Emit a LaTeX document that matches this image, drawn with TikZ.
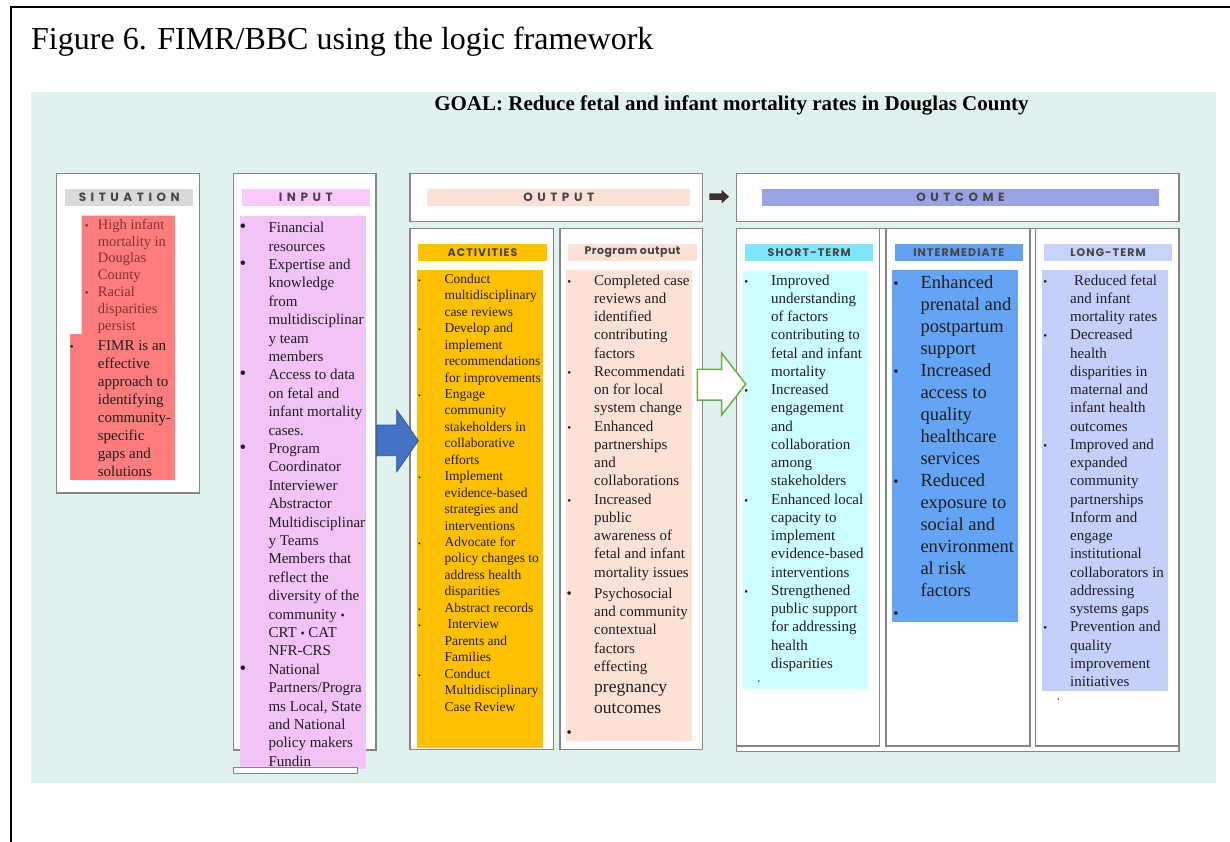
\documentclass[tikz,border=0pt]{standalone}
\usepackage{fontspec}
\setmainfont{Liberation Serif}
\newfontfamily\hdfont{Poppins}
\usepackage{xcolor}

\definecolor{tealbg}{HTML}{E0F2EF}
\definecolor{panelgray}{HTML}{858585}
\definecolor{tagtext}{HTML}{454545}
\definecolor{bodytext}{HTML}{1E1E1E}
\definecolor{sitbar}{HTML}{D9D9D9}
\definecolor{sitfill}{HTML}{FF7C7C}
\definecolor{sitred}{HTML}{7E3434}
\definecolor{inbar}{HTML}{FBC8FB}
\definecolor{infill}{HTML}{F3C3F8}
\definecolor{outbar}{HTML}{FBE0D6}
\definecolor{peach}{HTML}{FBE1D6}
\definecolor{outcomebar}{HTML}{9AA2E6}
\definecolor{actorange}{HTML}{FFC000}
\definecolor{shortbar}{HTML}{7FE6F9}
\definecolor{shortfill}{HTML}{CCFFFF}
\definecolor{interbar}{HTML}{62A0F0}
\definecolor{interfill}{HTML}{64A4F5}
\definecolor{longbar}{HTML}{C7D2FB}
\definecolor{longfill}{HTML}{C4CFFB}
\definecolor{arrowblue}{HTML}{4472C4}
\definecolor{arrowedge}{HTML}{2F528F}
\definecolor{arrowgreen}{HTML}{70AD47}
\definecolor{arrowdark}{HTML}{3A2F2C}

% bullets of several sizes and a bullet list with fixed line breaks
\newcommand{\bb}{\makebox[0pt]{\fontsize{19}{19}\selectfont\textbullet}}
\newcommand{\lbb}{\makebox[0pt]{\fontsize{15}{15}\selectfont\textbullet}}
\newcommand{\mbb}{\makebox[0pt]{\fontsize{11}{11}\selectfont\textbullet}}
\newcommand{\sbb}{\makebox[0pt]{\fontsize{8}{8}\selectfont\textbullet}}
\newcommand{\ib}{{\fontsize{12}{12}\selectfont\textbullet}}
\newcommand{\blist}[2]{\begin{tabular}[t]{@{}p{#1}@{}l@{}}#2\end{tabular}}

\tikzset{
  panel/.style={draw=panelgray, line width=1.4pt, fill=white, inner sep=0pt},
  pad/.style={draw=none, inner sep=0pt},
  tag/.style={inner sep=0pt, minimum height=16.4, text=tagtext,
    font={\hdfont\bfseries\fontsize{12}{12}\selectfont\addfontfeatures{LetterSpace=38}}},
  subtag/.style={inner sep=0pt, minimum height=16.7, text=tagtext,
    font={\hdfont\bfseries\fontsize{11}{11}\selectfont\addfontfeatures{LetterSpace=10}}},
  items/.style={anchor=base west, inner sep=0pt, text=bodytext},
}

\begin{document}
\begin{tikzpicture}[x=1pt,y=-1pt]
\useasboundingbox (0,0) rectangle (1230,842);
\fill[white] (0,0) rectangle (1230,842);
\draw[line width=2pt] (11,842) -- (11,7) -- (1230,7);

\node[anchor=base west, inner sep=0pt, font=\fontsize{32}{38}\selectfont] (title) at (31,50)
  {Figure 6. FIMR/BBC using the logic framework};

\fill[tealbg] (31,92) rectangle (1215.7,782.7);
\node[anchor=base, inner sep=0pt, font=\bfseries\fontsize{21}{25}\selectfont] (goal) at (731.5,111)
  {GOAL: Reduce fetal and infant mortality rates in Douglas County};

% white panels
\node[panel, minimum width=142.6, minimum height=319.7] (sitbox) at (128,333.2) {};
\node[panel, minimum width=142.3, minimum height=576.7] (inbox) at (304.9,461.7) {};
\node[panel, minimum width=292.7, minimum height=48.4] (outhead) at (556.4,197.5) {};
\node[panel, minimum width=442.3, minimum height=48.4] (outcomehead) at (957.9,197.5) {};
\node[panel, minimum width=143.3, minimum height=521] (actbox) at (481.7,488.8) {};
\node[panel, minimum width=142.7, minimum height=521] (progbox) at (631.4,488.8) {};
\node[panel, minimum width=442.3, minimum height=523.4] (outcomebox) at (957.9,490) {};
\node[panel, minimum width=142.6, minimum height=517.7] (shortbox) at (808,487.2) {};
\node[panel, minimum width=144, minimum height=517.7] (interbox) at (958,487.2) {};
\node[panel, minimum width=143.7, minimum height=517.7] (longbox) at (1107.2,487.2) {};

% headings
\node[tag, fill=sitbar, minimum width=128.3] (sittag) at (129.2,197.5) {SITUATION};
\node[tag, fill=inbar, minimum width=128.3] (intag) at (305.8,197.5) {INPUT};
\node[tag, fill=outbar, minimum width=262.7] (outtag) at (558.7,197.5) {OUTPUT};
\node[tag, fill=outcomebar, minimum width=397.6] (outcometag) at (960.5,197.5) {OUTCOME};
\node[subtag, fill=actorange, minimum width=128.4] (acttag) at (482.5,252.3) {ACTIVITIES};
\node[subtag, fill=outbar, minimum width=128.4, font={\hdfont\bfseries\fontsize{11}{11}\selectfont\addfontfeatures{LetterSpace=4}}] (progtag) at (632.5,252.3) {Program output};
\node[subtag, fill=shortbar, minimum width=128.3] (shorttag) at (809.2,252.3) {SHORT-TERM};
\node[subtag, fill=interbar, minimum width=127.7] (intertag) at (958.8,252.3) {INTERMEDIATE};
\node[subtag, fill=longbar, minimum width=128] (longtag) at (1108,252.3) {LONG-TERM};

% coloured text areas
\fill[sitfill] (81.7,215.7) -- (175,215.7) -- (175,480) -- (70,480) -- (70,334) -- (81.7,334) -- cycle;
\node[pad, fill=infill, minimum width=125.7, minimum height=553.6] (inpad) at (302.9,492.5) {};
\node[panel, minimum width=124, minimum height=6] (infoot) at (295.3,770.3) {};
\node[pad, fill=actorange, minimum width=126, minimum height=478.3] (actpad) at (479.7,509.2) {};
\node[pad, fill=peach, minimum width=126, minimum height=471] (progpad) at (628.7,505.5) {};
\node[pad, fill=shortfill, minimum width=125, minimum height=418.6] (shortpad) at (805.8,480) {};
\node[pad, fill=interfill, minimum width=125.4, minimum height=351.7] (interpad) at (955,445.9) {};
\node[pad, fill=longfill, minimum width=125.4, minimum height=420.7] (longpad) at (1105,480.4) {};

% lists
\node[items, text=sitred, font=\fontsize{14.5}{16.8}\selectfont] (sitlistA) at (86.7,229.3)
  {\blist{11pt}{\mbb & High infant\\ & mortality in\\ & Douglas\\ & County\\
   \mbb & Racial\\ & disparities\\ & persist}};
\node[items, font=\fontsize{15}{18}\selectfont] (sitlistB) at (71.7,350)
  {\blist{26pt}{\mbb & FIMR is an\\ & effective\\ & approach to\\ & identifying\\
   & community-\\ & specific\\ & gaps and\\ & solutions}};

\node[items, font=\fontsize{15}{18.4}\selectfont] (inlist) at (242.7,232.7)
  {\blist{25.6pt}{\bb & Financial\\ & resources\\
   \bb & Expertise and\\ & knowledge\\ & from\\ & multidisciplinar\\ & y team\\ & members\\
   \bb & Access to data\\ & on fetal and\\ & infant mortality\\ & cases.\\
   \bb & Program\\ & Coordinator\\ & Interviewer\\ & Abstractor\\ & Multidisciplinar\\
   & y Teams\\ & Members that\\ & reflect the\\ & diversity of the\\ & community \ib\\
   & CRT \ib{} CAT\\ & NFR-CRS\\
   \bb & National\\ & Partners/Progra\\ & ms Local, State\\ & and National\\
   & policy makers\\ & Fundin}};

\node[items, font=\fontsize{13.5}{16.45}\selectfont] (actlist) at (419.3,283.3)
  {\blist{25pt}{\sbb & Conduct\\ & multidisciplinary\\ & case reviews\\
   \sbb & Develop and\\ & implement\\ & recommendations\\ & for improvements\\
   \sbb & Engage\\ & community\\ & stakeholders in\\ & collaborative\\ & efforts\\
   \sbb & Implement\\ & evidence-based\\ & strategies and\\ & interventions\\
   \sbb & Advocate for\\ & policy changes to\\ & address health\\ & disparities\\
   \sbb & Abstract records\\
   \sbb & \hspace*{3pt}Interview\\ & Parents and\\ & Families\\
   \sbb & Conduct\\ & Multidisciplinary\\ & Case Review}};

\node[items, font=\fontsize{15}{18.25}\selectfont] (proglist) at (569,285)
  {\blist{25pt}{\mbb & Completed case\\ & reviews and\\ & identified\\ & contributing\\ & factors\\
   \mbb & Recommendati\\ & on for local\\ & system change\\
   \mbb & Enhanced\\ & partnerships\\ & and\\ & collaborations\\
   \mbb & Increased\\ & public\\ & awareness of\\ & fetal and infant\\ & mortality issues\\[3pt]
   \lbb & Psychosocial\\ & and community\\ & contextual\\ & factors\\ & effecting\\[3.3pt]
   & {\fontsize{17.5}{21}\selectfont pregnancy}\\[2.7pt]
   & {\fontsize{17.5}{21}\selectfont outcomes}\\[5pt]
   \lbb & }};

\node[items, font=\fontsize{15}{18.25}\selectfont] (shortlist) at (746,285)
  {\blist{25pt}{\mbb & Improved\\ & understanding\\ & of factors\\ & contributing to\\
   & fetal and infant\\ & mortality\\
   \mbb & Increased\\ & engagement\\ & and\\ & collaboration\\ & among\\ & stakeholders\\
   \mbb & Enhanced local\\ & capacity to\\ & implement\\ & evidence-based\\ & interventions\\
   \mbb & Strengthened\\ & public support\\ & for addressing\\ & health\\ & disparities}};
\node[inner sep=0pt, font=\fontsize{6}{6}\selectfont] (shortdot) at (759,681.7) {\textbullet};

\node[items, font=\fontsize{18.5}{22}\selectfont] (interlist) at (895.7,288.3)
  {\blist{24.6pt}{\lbb & Enhanced\\ & prenatal and\\ & postpartum\\ & support\\
   \lbb & Increased\\ & access to\\ & quality\\ & healthcare\\ & services\\
   \lbb & Reduced\\ & exposure to\\ & social and\\ & environment\\ & al risk\\ & factors\\
   \lbb & }};

\node[items, font=\fontsize{15}{18.25}\selectfont] (longlist) at (1045,285)
  {\blist{25pt}{\mbb & \hspace*{4pt}Reduced fetal\\ & and infant\\ & mortality rates\\
   \mbb & Decreased\\ & health\\ & disparities in\\ & maternal and\\ & infant health\\ & outcomes\\
   \mbb & Improved and\\ & expanded\\ & community\\ & partnerships\\ & Inform and\\ & engage\\
   & institutional\\ & collaborators in\\ & addressing\\ & systems gaps\\
   \mbb & Prevention and\\ & quality\\ & improvement\\ & initiatives}};
\node[inner sep=0pt, font=\fontsize{6}{6}\selectfont] (longdot) at (1058.3,700) {\textbullet};

% block arrows
\draw[fill=arrowblue, draw=arrowedge, line width=0.8pt] (376.7,425) -- (396.7,425) -- (396.7,410)
  -- (418.3,440.7) -- (396.7,471.7) -- (396.7,455.7) -- (376.7,455.7) -- cycle;
\draw[fill=white, draw=arrowgreen, line width=1.5pt] (697.3,369.3) -- (721.7,369.3) -- (721.7,353.3)
  -- (745.7,384) -- (721.7,415) -- (721.7,400) -- (697.3,400) -- cycle;
\fill[arrowdark] (709.3,193.3) -- (721.7,193.3) -- (721.7,190) -- (729,196.7) -- (721.7,203.3)
  -- (721.7,200) -- (709.3,200) -- cycle;
\end{tikzpicture}
\end{document}
